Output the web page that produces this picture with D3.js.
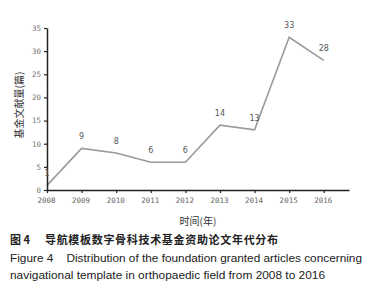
<!DOCTYPE html>
<html><head><meta charset="utf-8">
<script src="https://cdn.jsdelivr.net/npm/d3@7"></script>
<style>
html,body{margin:0;padding:0;background:#fff;}
svg{display:block;}
</style></head>
<body>
<svg id="c" width="374" height="300"></svg>
<script>
const years = [2008, 2009, 2010, 2011, 2012, 2013, 2014, 2015, 2016];
const counts = [1, 9, 8, 6, 6, 14, 13, 33, 28];
const yTicks = [0, 5, 10, 15, 20, 25, 30, 35];
const yTitle = "基金文献量(篇)";
const xTitle = "时间(年)";
const captionNo = "图 4";
const captionCN = "导航模板数字骨科技术基金资助论文年代分布";
const captionEN1 = "Figure 4    Distribution of the foundation granted articles concerning";
const captionEN2 = "navigational template in orthopaedic field from 2008 to 2016";

(function(){
const svg = d3.select("#c");
const mLeft = 47, mRight = 349, mTop = 28, mBottom = 190;

const x = d3.scaleLinear().domain([2008, 2016.73]).range([mLeft, mRight]);
const y = d3.scaleLinear().domain([0, 35]).range([mBottom, mTop]);

// line
const line = d3.line().x((d,i)=>x(years[i])).y(d=>y(d));
svg.append("path").datum(counts)
  .attr("d", line).attr("fill","none")
  .attr("stroke","#9a9a9a").attr("stroke-width",1.6)
  .attr("stroke-linejoin","miter");

// axes
const xAxis = d3.axisBottom(x).tickValues(years).tickFormat(d3.format("d")).tickSize(3).tickSizeOuter(0);
const gx = svg.append("g").attr("transform",`translate(0,${mBottom})`).call(xAxis);
gx.select(".domain").attr("stroke","#222").attr("stroke-width",1.5);
gx.selectAll(".tick line").attr("stroke","#222").attr("stroke-width",1.2);
gx.selectAll(".tick text").attr("fill","#666").attr("font-family","DejaVu Sans Mono, monospace")
  .attr("font-size","7.5px").attr("dy","0.9em").attr("dx","-1");

const yAxis = d3.axisLeft(y).tickValues(yTicks).tickSize(3).tickSizeOuter(0);
const gy = svg.append("g").attr("transform",`translate(${mLeft},0)`).call(yAxis);
gy.select(".domain").attr("stroke","#222").attr("stroke-width",1.5);
gy.selectAll(".tick line").attr("stroke","#222").attr("stroke-width",1.2);
gy.selectAll(".tick text").attr("fill","#777").attr("font-family","DejaVu Sans Mono, monospace")
  .attr("font-size","7.5px").attr("x",-6);

// value labels
svg.append("g").selectAll("text").data(counts).join("text")
  .attr("x",(d,i)=>x(years[i]))
  .attr("y",d=>y(d)-9)
  .attr("text-anchor","middle")
  .attr("font-family","DejaVu Sans, sans-serif")
  .attr("font-size","8px")
  .attr("fill","#555")
  .text(d=>d);

// titles
svg.append("text")
  .attr("transform",`translate(23,105) rotate(-90)`)
  .attr("text-anchor","middle")
  .attr("font-family","Noto Sans CJK SC, sans-serif")
  .attr("font-size","10px").attr("fill","#333")
  .text(yTitle);

svg.append("text")
  .attr("x",198).attr("y",225)
  .attr("text-anchor","middle")
  .attr("font-family","Noto Sans CJK SC, sans-serif")
  .attr("font-size","10px").attr("fill","#333")
  .text(xTitle);

// captions
svg.append("text").attr("x",10).attr("y",244)
  .attr("font-family","Noto Sans CJK SC, sans-serif")
  .attr("font-size","11px").attr("font-weight","bold").attr("fill","#222")
  .text(captionNo);
svg.append("text").attr("x",45).attr("y",244)
  .attr("font-family","Noto Sans CJK SC, sans-serif")
  .attr("font-size","11px").attr("font-weight","bold").attr("fill","#222")
  .attr("textLength",233).attr("lengthAdjust","spacing")
  .text(captionCN);
svg.append("text").attr("x",10).attr("y",262)
  .attr("font-family","Liberation Sans, Arial, sans-serif")
  .attr("font-size","10px").attr("fill","#222")
  .attr("textLength",352).attr("lengthAdjust","spacingAndGlyphs")
  .style("white-space","pre")
  .text(captionEN1);
svg.append("text").attr("x",10).attr("y",279)
  .attr("font-family","Liberation Sans, Arial, sans-serif")
  .attr("font-size","10px").attr("fill","#222")
  .attr("textLength",315).attr("lengthAdjust","spacingAndGlyphs")
  .text(captionEN2);
})();
</script>
</body></html>
